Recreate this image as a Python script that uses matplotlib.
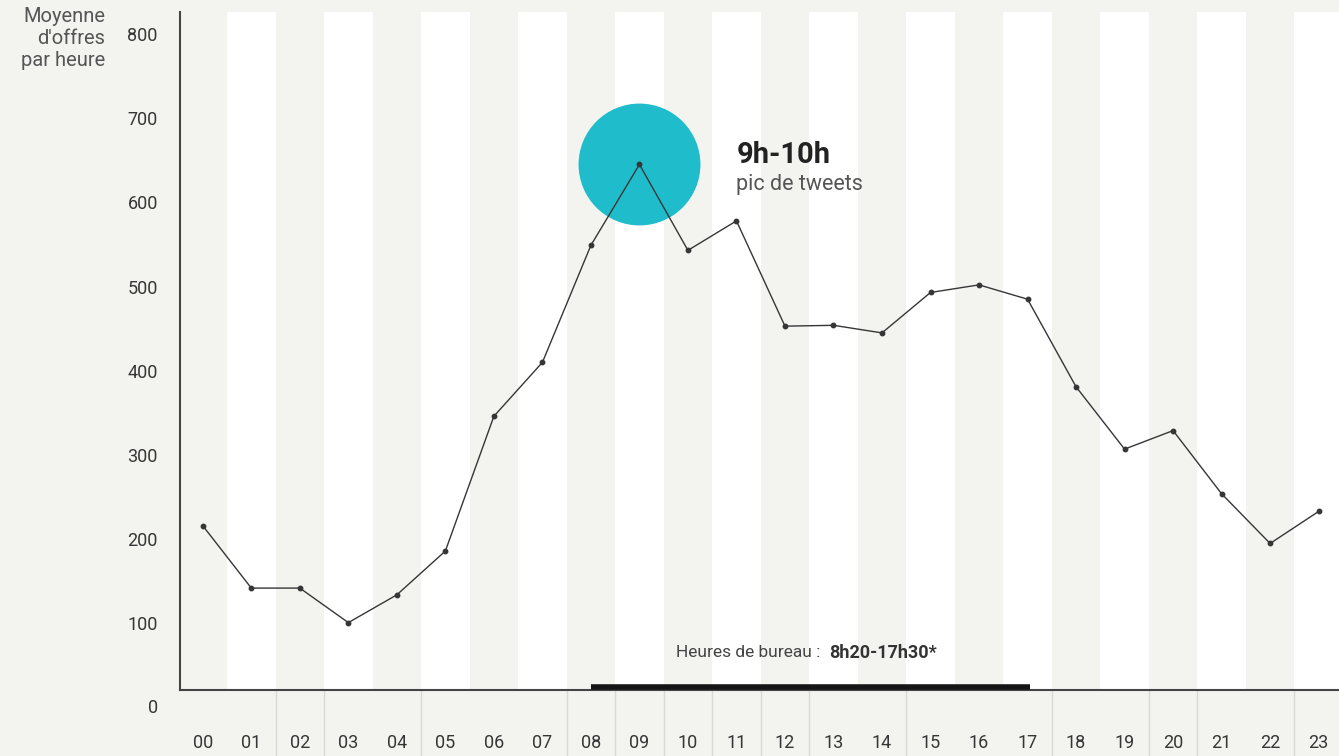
import matplotlib.pyplot as plt

plt.rcParams['font.family'] = ['Roboto', 'DejaVu Sans']

# data
hours = list(range(24))
hour_labels = ["00", "01", "02", "03", "04", "05", "06", "07", "08", "09", "10", "11",
               "12", "13", "14", "15", "16", "17", "18", "19", "20", "21", "22", "23"]
offers = [216, 142, 142, 101, 134, 186, 346, 410, 549, 645, 543, 578,
          453, 454, 445, 493, 502, 485, 381, 307, 329, 254, 195, 233]
y_ticks = [100, 200, 300, 400, 500, 600, 700, 800]
peak_hour = 9
office_span = (8.0, 17.05)
sep_hours = [1.5, 2.5, 4.5, 7.5, 8.5, 9.5, 10.5, 11.5, 12.5, 14.5, 17.5, 19.5, 20.5, 22.5]

bg = "#f3f3ef"
ink = "#363636"

fig = plt.figure(figsize=(13.39, 7.56), dpi=100, facecolor=bg)
ax = fig.add_axes([180 / 1339, 66 / 756, 1159 / 1339, 678 / 756])
ax.set_facecolor(bg)
ax.set_xlim(-0.47, 23.42)
ax.set_ylim(21, 826)

# white stripes on odd hours
for h in hours:
    if h % 2 == 1:
        ax.axvspan(h - 0.5, h + 0.5, color="white", zorder=0, lw=0)

# faint separators under the axis
ax.vlines(sep_hours, -0.1, 0, transform=ax.get_xaxis_transform(),
          colors="#d9d9d5", lw=1, clip_on=False)

# peak bubble
ax.scatter([peak_hour], [offers[peak_hour]], s=7700, color="#1fbdcb", zorder=2, lw=0)

# the series
ax.plot(hours, offers, color=ink, lw=1.0, zorder=3)
ax.plot(hours, offers, "o", color=ink, ms=3.2, zorder=4)

# office hours bar
ax.plot(office_span, [0.004, 0.004], transform=ax.get_xaxis_transform(),
        color="#151515", lw=4, solid_capstyle="butt", clip_on=False, zorder=5)
ax.text(12.72, 65, "Heures de bureau :", ha="right", va="center",
        fontsize=12.5, color="#444444")
ax.text(12.92, 65, "8h20-17h30*", ha="left", va="center",
        fontsize=13, color="#333333", fontweight="bold")

# peak annotation
ax.text(11.0, 656, "9h-10h", ha="left", va="center", fontsize=21,
        fontweight="bold", color="#222222")
ax.text(11.0, 621, "pic de tweets", ha="left", va="center", fontsize=15.5,
        color="#555555")

# axes styling
for s in ["top", "right"]:
    ax.spines[s].set_visible(False)
ax.spines["left"].set_color("#444444")
ax.spines["bottom"].set_color("#444444")
ax.spines["left"].set_linewidth(1.5)
ax.spines["bottom"].set_linewidth(1.5)

ax.set_yticks(y_ticks)
ax.set_yticklabels([str(v) for v in y_ticks])
ax.set_xticks(hours)
ax.set_xticklabels(hour_labels)
ax.tick_params(axis="y", length=0, pad=16, labelsize=13, labelcolor=ink)
ax.tick_params(axis="x", length=0, pad=32, labelsize=13, labelcolor=ink)
ax.text(-0.019, 0, "0", ha="right", va="center", transform=ax.get_yaxis_transform(),
        fontsize=13, color=ink, clip_on=False)

fig.text(105 / 1339, 1 - 39 / 756, "Moyenne\nd'offres\npar heure", ha="right",
         va="center", multialignment="right", fontsize=14.5, color="#555555",
         linespacing=1.2)

fig.savefig("out.png", dpi=100, facecolor=bg)
